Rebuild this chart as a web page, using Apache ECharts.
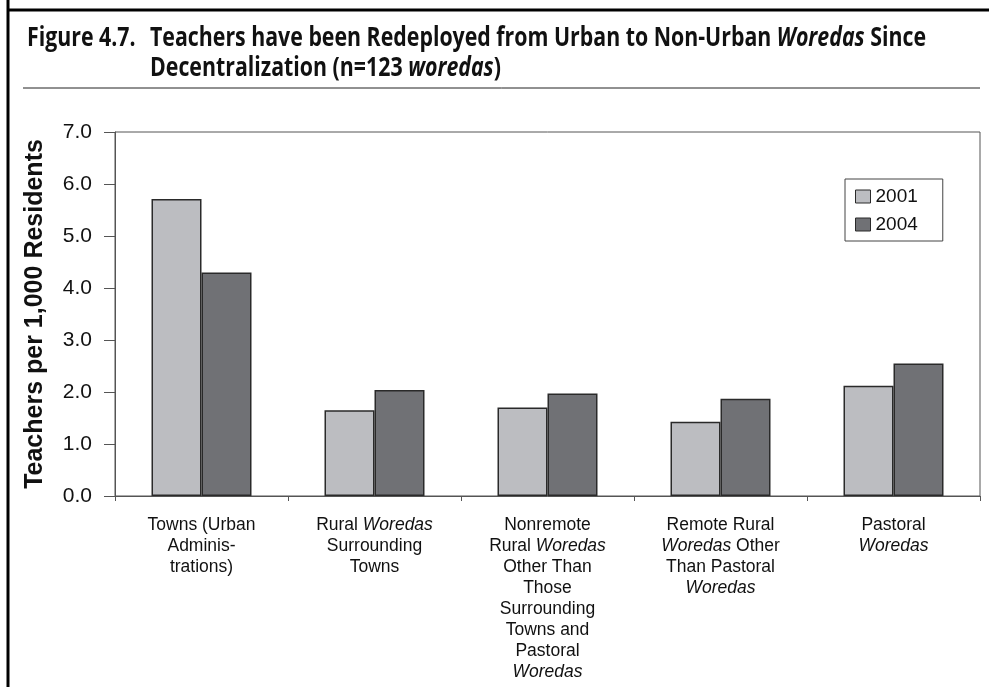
<!DOCTYPE html>
<html lang="en">
<head>
    <meta charset="UTF-8">
    <title>Figure 4.7</title>
    <script src="https://cdn.jsdelivr.net/npm/echarts@6/dist/echarts.min.js"></script>
    <style>
        html, body { margin: 0; padding: 0; background: #fff; }
        #chart { width: 989px; height: 687px; }
    </style>
</head>
<body>
    <div id="chart"></div>
    <script>
        // categories and values
        var categories = [
            'Towns (Urban\nAdminis-\ntrations)',
            'Rural Woredas\nSurrounding\nTowns',
            'Nonremote\nRural Woredas\nOther Than\nThose\nSurrounding\nTowns and\nPastoral\nWoredas',
            'Remote Rural\nWoredas Other\nThan Pastoral\nWoredas',
            'Pastoral\nWoredas'
        ];
        var years = ['2001', '2004'];
        var values2001 = [5.71, 1.65, 1.70, 1.43, 2.12];
        var values2004 = [4.30, 2.04, 1.97, 1.87, 2.55];
        var yTicks = [0, 1, 2, 3, 4, 5, 6, 7];

        var titleLabel = 'Figure 4.7.';
        var titleLine1 = ['Teachers have been Redeployed from Urban to Non-Urban ', 'Woredas', ' Since'];
        var titleLine2 = ['Decentralization (n=123 ', 'woredas', ')'];

        var titleFont = "'Open Sans', 'Noto Sans', sans-serif";
        var bodyFont = "'Liberation Sans', Arial, sans-serif";
        var titleSize = 26;

        // the title font is a condensed one: squeeze a normal bold face to the same width
        var ctx = document.createElement('canvas').getContext('2d');
        function w(txt, italic) {
            ctx.font = (italic ? 'italic ' : '') + 'bold ' + titleSize + 'px ' + titleFont;
            return ctx.measureText(txt).width;
        }
        var line1Width = w(titleLine1[0]) + w(titleLine1[1], true) + w(titleLine1[2]);
        var squeeze = 776 / line1Width;

        var titleRich = {
            b: { fontFamily: titleFont, fontSize: titleSize, fontWeight: 'bold', fill: '#111' },
            bi: { fontFamily: titleFont, fontSize: titleSize, fontWeight: 'bold', fontStyle: 'italic', fill: '#111' }
        };
        function titleText(x, y, parts) {
            var txt = parts.length === 1 ? '{b|' + parts[0] + '}'
                : '{b|' + parts[0] + '}{bi|' + parts[1] + '}{b|' + parts[2] + '}';
            return {
                type: 'text', x: x, y: y, scaleX: squeeze, scaleY: 1,
                style: { text: txt, rich: titleRich, x: 0, y: 0, verticalAlign: 'middle', align: 'left' }
            };
        }

        var chart = echarts.init(document.getElementById('chart'));
        var option = {
            backgroundColor: '#fff',
            animation: false,
            graphic: [
                { type: 'line', shape: { x1: 8, y1: 0, x2: 8, y2: 687 }, style: { stroke: '#000', lineWidth: 3 } },
                { type: 'line', shape: { x1: 8, y1: 10, x2: 989, y2: 10 }, style: { stroke: '#000', lineWidth: 3 } },
                { type: 'line', shape: { x1: 23, y1: 88, x2: 980, y2: 88 }, style: { stroke: '#222', lineWidth: 1 } },
                titleText(27, 39, [titleLabel]),
                titleText(150, 39, titleLine1),
                titleText(150, 69, titleLine2)
            ],
            legend: {
                data: years,
                orient: 'vertical',
                left: 845, top: 179,
                padding: [8, 25, 7, 10],
                itemWidth: 15, itemHeight: 13,
                itemGap: 9,
                icon: 'rect',
                borderColor: '#444', borderWidth: 1,
                backgroundColor: '#fff',
                textStyle: { fontFamily: bodyFont, fontSize: 19, color: '#111' },
                itemStyle: { borderColor: '#2a2a2a', borderWidth: 1 }
            },
            grid: {
                left: 115, right: 9, top: 132, bottom: 191,
                show: true, borderColor: '#555', borderWidth: 1
            },
            xAxis: {
                type: 'category',
                data: categories,
                axisLine: { lineStyle: { color: '#555', width: 1 } },
                axisTick: { show: true, length: 5, lineStyle: { color: '#555' } },
                axisLabel: {
                    interval: 0,
                    margin: 19,
                    fontFamily: bodyFont, fontSize: 17.5, color: '#111', lineHeight: 21,
                    formatter: function (v) {
                        return v.split('\n').map(function (line) {
                            return line.split(/(Woredas)/).filter(function (s) { return s; }).map(function (s) {
                                return (s === 'Woredas' ? '{i|' : '{n|') + s + '}';
                            }).join('');
                        }).join('\n');
                    },
                    rich: {
                        n: { fontFamily: bodyFont, fontSize: 17.5, color: '#111', lineHeight: 21 },
                        i: { fontFamily: bodyFont, fontSize: 17.5, fontStyle: 'italic', color: '#111', lineHeight: 21 }
                    }
                }
            },
            yAxis: {
                type: 'value',
                min: yTicks[0], max: yTicks[yTicks.length - 1], interval: 1,
                name: 'Teachers per 1,000 Residents',
                nameLocation: 'middle',
                nameGap: 67,
                nameTextStyle: { fontFamily: bodyFont, fontSize: 25, fontWeight: 'bold', color: '#111' },
                axisLine: { show: true, lineStyle: { color: '#555', width: 1 } },
                axisTick: { show: true, length: 11, lineStyle: { color: '#555' } },
                splitLine: { show: false },
                axisLabel: {
                    margin: 23,
                    fontFamily: bodyFont, fontSize: 21, color: '#111',
                    formatter: function (v) { return v.toFixed(1); }
                }
            },
            series: [
                {
                    name: years[0], type: 'bar', data: values2001,
                    barWidth: 50, barGap: '0%',
                    itemStyle: { color: '#bcbdc1', borderColor: '#2a2a2a', borderWidth: 1.5 }
                },
                {
                    name: years[1], type: 'bar', data: values2004,
                    barWidth: 50, barGap: '0%',
                    itemStyle: { color: '#707175', borderColor: '#2a2a2a', borderWidth: 1.5 }
                }
            ]
        };
        chart.setOption(option);
    </script>
</body>
</html>
